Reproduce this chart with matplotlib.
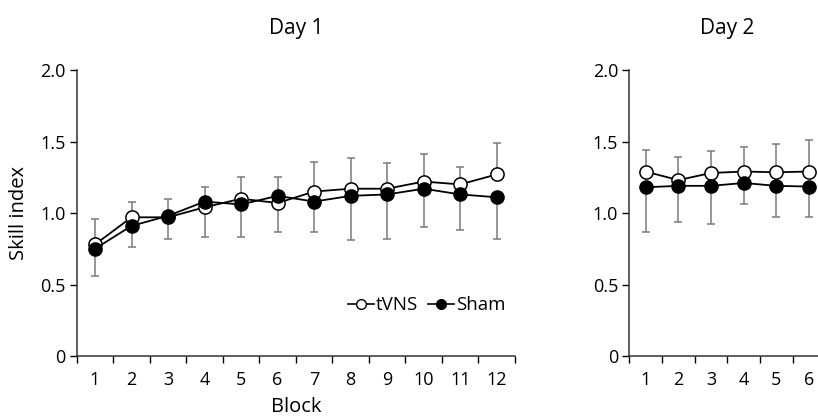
import numpy as np
import matplotlib
matplotlib.use("Agg")
import matplotlib.pyplot as plt
from matplotlib.lines import Line2D

plt.rcParams['font.family'] = ['Open Sans', 'DejaVu Sans']

# Day 1 data (12 blocks)
blocks_d1 = np.arange(1, 13)
tvns_d1 = [0.78, 0.97, 0.97, 1.04, 1.10, 1.07, 1.15, 1.17, 1.17, 1.22, 1.20, 1.27]
tvns_d1_err = [0.18, 0.11, 0.13, 0.145, 0.15, 0.18, 0.205, 0.215, 0.18, 0.19, 0.12, 0.22]
sham_d1 = [0.75, 0.91, 0.98, 1.08, 1.06, 1.12, 1.08, 1.12, 1.13, 1.17, 1.13, 1.11]
sham_d1_err = [0.19, 0.145, 0.165, 0.245, 0.23, 0.25, 0.21, 0.31, 0.31, 0.27, 0.25, 0.29]

# Day 2 data (6 blocks)
blocks_d2 = np.arange(1, 7)
tvns_d2 = [1.29, 1.23, 1.28, 1.29, 1.285, 1.29]
tvns_d2_err = [0.15, 0.16, 0.155, 0.175, 0.20, 0.22]
sham_d2 = [1.18, 1.19, 1.19, 1.21, 1.19, 1.185]
sham_d2_err = [0.31, 0.25, 0.27, 0.15, 0.22, 0.21]

fig = plt.figure(figsize=(8.18, 4.16), dpi=100)
ax1 = fig.add_axes([0.0938, 0.1442, 0.5358, 0.6875])
ax2 = fig.add_axes([0.7693, 0.1442, 0.2397, 0.6875])

ecol = "#7a7a7a"


def draw(ax, x, tv, tv_err, sh, sh_err, nblocks):
    # tVNS: error up, Sham: error down
    ax.errorbar(x, tv, yerr=[np.zeros(len(tv)), tv_err], fmt="none",
                ecolor=ecol, elinewidth=1.1, capsize=3, capthick=1.1, zorder=1)
    ax.errorbar(x, sh, yerr=[sh_err, np.zeros(len(sh))], fmt="none",
                ecolor=ecol, elinewidth=1.1, capsize=3, capthick=1.1, zorder=1)
    ax.plot(x, tv, "-o", color="black", mfc="white", mec="black", mew=1.1,
            ms=9.5, lw=1.3, zorder=3)
    ax.plot(x, sh, "-o", color="black", mfc="black", mec="black",
            ms=9.5, lw=1.3, zorder=4)
    ax.set_xlim(0.5, nblocks + 0.5)
    ax.set_ylim(0, 2.0)
    ax.set_yticks([0, 0.5, 1.0, 1.5, 2.0])
    ax.set_yticklabels(["0", "0.5", "1.0", "1.5", "2.0"])
    ax.set_xticks(x)
    ax.set_xticks(np.arange(0.5, nblocks + 1), minor=True)
    ax.tick_params(axis="x", which="major", length=0, pad=11, labelsize=13)
    ax.tick_params(axis="x", which="minor", length=5, width=1, direction="out")
    ax.tick_params(axis="y", length=5, width=1, direction="out", labelsize=13,
                   pad=3)
    for s in ["top", "right"]:
        ax.spines[s].set_visible(False)
    for s in ["left", "bottom"]:
        ax.spines[s].set_linewidth(1.1)
        ax.spines[s].set_color("#333333")


draw(ax1, blocks_d1, tvns_d1, tvns_d1_err, sham_d1, sham_d1_err, 12)
draw(ax2, blocks_d2, tvns_d2, tvns_d2_err, sham_d2, sham_d2_err, 6)

ax1.set_title("Day 1", fontsize=15, pad=26)
ax2.set_title("Day 2", fontsize=15, pad=26)
ax1.set_ylabel("Skill index", fontsize=14.5, labelpad=8)
ax1.set_xlabel("Block", fontsize=14.5, labelpad=5.5)

handles = [
    Line2D([], [], color="black", marker="o", mfc="white", mec="black", ms=7, lw=1.2),
    Line2D([], [], color="black", marker="o", mfc="black", mec="black", ms=7, lw=1.2),
]
ax1.legend(handles, ["tVNS", "Sham"], ncol=2, frameon=False, fontsize=13.5,
           handlelength=1.4, handletextpad=0.1, columnspacing=0.5,
           loc="lower right", bbox_to_anchor=(0.995, 0.12), borderaxespad=0)

fig.savefig("out.png", dpi=100)
